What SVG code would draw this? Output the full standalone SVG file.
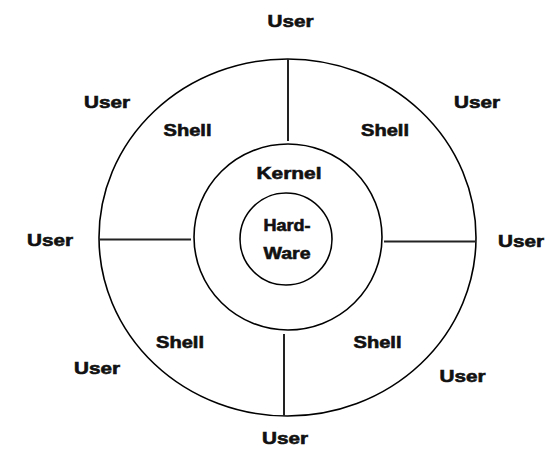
<svg xmlns="http://www.w3.org/2000/svg" width="552" height="449" viewBox="0 0 552 449">
<style>
.ring{fill:none;stroke:#000;stroke-width:1.6}
.div{stroke:#222;stroke-width:2;fill:none}
text{font-family:"Liberation Sans",Arial,sans-serif;font-weight:bold;font-size:16.5px;fill:#111;stroke:#111;stroke-width:0.6;text-anchor:middle}
</style>
<rect width="552" height="449" fill="#fff"/>
<g id="shell-ring"><ellipse class="ring" cx="287.5" cy="237.5" rx="188.5" ry="178.5"/></g>
<g id="kernel-ring"><ellipse class="ring" cx="288" cy="237" rx="94" ry="93"/></g>
<g id="hardware"><circle class="ring" cx="286" cy="239" r="46"/>
<text x="287" y="230.5" textLength="47" lengthAdjust="spacingAndGlyphs">Hard-</text>
<text x="287" y="259" textLength="47" lengthAdjust="spacingAndGlyphs">Ware</text></g>
<g id="connectors">
<line class="div" x1="288" y1="59" x2="288" y2="141"/>
<line class="div" x1="99" y1="239.5" x2="191" y2="239.5"/>
<line class="div" x1="384" y1="241.5" x2="476" y2="241.5"/>
<line class="div" x1="284" y1="334" x2="284" y2="416"/>
</g>
<g id="kernel"><text x="289" y="179" textLength="65" lengthAdjust="spacingAndGlyphs">Kernel</text></g>
<g id="shell-ul"><text x="187.5" y="135.5" textLength="48" lengthAdjust="spacingAndGlyphs">Shell</text></g>
<g id="shell-ur"><text x="385" y="135.5" textLength="48" lengthAdjust="spacingAndGlyphs">Shell</text></g>
<g id="shell-ll"><text x="180" y="348" textLength="48" lengthAdjust="spacingAndGlyphs">Shell</text></g>
<g id="shell-lr"><text x="377.5" y="348" textLength="48" lengthAdjust="spacingAndGlyphs">Shell</text></g>
<g id="user-top"><text x="290.5" y="26.5" textLength="46" lengthAdjust="spacingAndGlyphs">User</text></g>
<g id="user-ul"><text x="107" y="108" textLength="46" lengthAdjust="spacingAndGlyphs">User</text></g>
<g id="user-ur"><text x="477" y="108" textLength="46" lengthAdjust="spacingAndGlyphs">User</text></g>
<g id="user-l"><text x="50" y="246" textLength="46" lengthAdjust="spacingAndGlyphs">User</text></g>
<g id="user-r"><text x="521" y="247" textLength="46" lengthAdjust="spacingAndGlyphs">User</text></g>
<g id="user-ll"><text x="97" y="374" textLength="46" lengthAdjust="spacingAndGlyphs">User</text></g>
<g id="user-lr"><text x="462.5" y="382" textLength="46" lengthAdjust="spacingAndGlyphs">User</text></g>
<g id="user-bottom"><text x="285" y="444" textLength="46" lengthAdjust="spacingAndGlyphs">User</text></g>
</svg>
